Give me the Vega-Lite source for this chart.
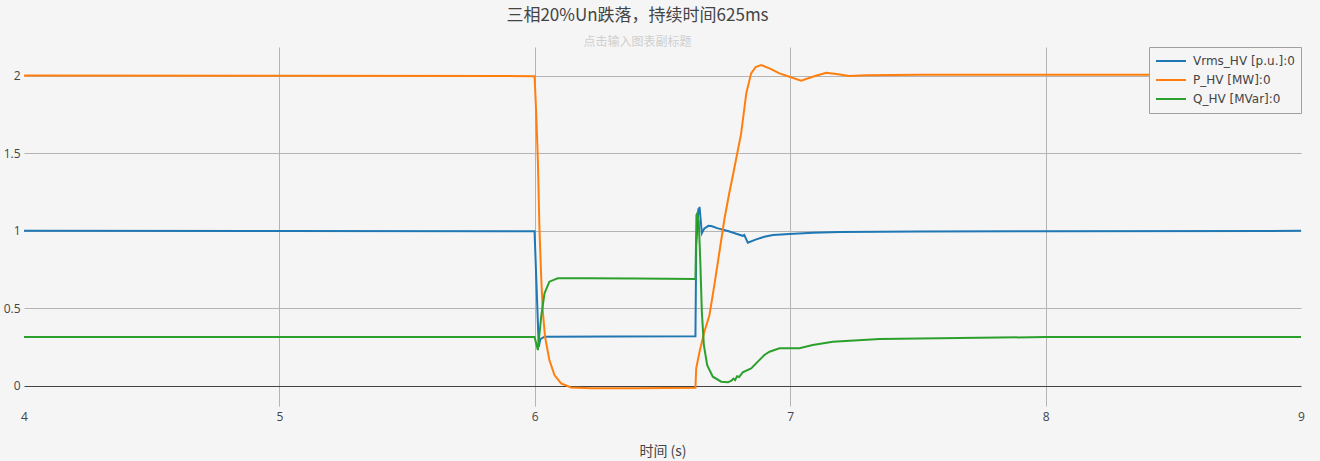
{
  "$schema": "https://vega.github.io/schema/vega-lite/v6.json",
  "width": 1277,
  "height": 359,
  "autosize": {"type": "none"},
  "padding": {"left": 24, "top": 47, "right": 19, "bottom": 55},
  "background": "#f5f5f5",
  "config": {"view": {"stroke": null}, "font": "Open Sans"},
  "title": {
    "text": "三相20%Un跌落，持续时间625ms",
    "subtitle": "点击输入图表副标题",
    "font": "Noto Sans CJK SC",
    "fontSize": 17,
    "fontWeight": "normal",
    "color": "#444444",
    "subtitleFont": "Noto Sans CJK SC",
    "subtitleFontSize": 12,
    "subtitleColor": "#cfcfcf",
    "subtitlePadding": 12,
    "anchor": "middle",
    "frame": "group",
    "dx": -25,
    "offset": -2
  },
  "data": {
    "values": [
      {"s": "V", "t": 4.0, "v": 0.998},
      {"s": "V", "t": 5.0, "v": 0.997},
      {"s": "V", "t": 5.999, "v": 0.996},
      {"s": "V", "t": 6.0155, "v": 0.25},
      {"s": "V", "t": 6.022, "v": 0.3},
      {"s": "V", "t": 6.038, "v": 0.315},
      {"s": "V", "t": 6.3, "v": 0.316},
      {"s": "V", "t": 6.629, "v": 0.318},
      {"s": "V", "t": 6.632, "v": 0.9},
      {"s": "V", "t": 6.636, "v": 1.014},
      {"s": "V", "t": 6.639, "v": 1.1},
      {"s": "V", "t": 6.641, "v": 1.143},
      {"s": "V", "t": 6.643, "v": 1.12},
      {"s": "V", "t": 6.645, "v": 1.153},
      {"s": "V", "t": 6.649, "v": 1.079},
      {"s": "V", "t": 6.654, "v": 0.982},
      {"s": "V", "t": 6.664, "v": 1.014},
      {"s": "V", "t": 6.68, "v": 1.03},
      {"s": "V", "t": 6.691, "v": 1.029},
      {"s": "V", "t": 6.717, "v": 1.014},
      {"s": "V", "t": 6.756, "v": 0.997},
      {"s": "V", "t": 6.795, "v": 0.976},
      {"s": "V", "t": 6.814, "v": 0.966},
      {"s": "V", "t": 6.82, "v": 0.972},
      {"s": "V", "t": 6.834, "v": 0.921},
      {"s": "V", "t": 6.867, "v": 0.943},
      {"s": "V", "t": 6.899, "v": 0.96},
      {"s": "V", "t": 6.932, "v": 0.971},
      {"s": "V", "t": 6.997, "v": 0.978},
      {"s": "V", "t": 7.088, "v": 0.985},
      {"s": "V", "t": 7.193, "v": 0.99},
      {"s": "V", "t": 7.5, "v": 0.994},
      {"s": "V", "t": 8.0, "v": 0.996},
      {"s": "V", "t": 9.0, "v": 0.998},

      {"s": "P", "t": 4.0, "v": 2.0},
      {"s": "P", "t": 5.0, "v": 1.998},
      {"s": "P", "t": 5.999, "v": 1.996},
      {"s": "P", "t": 6.005, "v": 1.78},
      {"s": "P", "t": 6.012, "v": 1.455},
      {"s": "P", "t": 6.018, "v": 1.025},
      {"s": "P", "t": 6.025, "v": 0.7},
      {"s": "P", "t": 6.031, "v": 0.487},
      {"s": "P", "t": 6.04, "v": 0.315},
      {"s": "P", "t": 6.057, "v": 0.165},
      {"s": "P", "t": 6.077, "v": 0.068},
      {"s": "P", "t": 6.103, "v": 0.014},
      {"s": "P", "t": 6.142, "v": -0.012},
      {"s": "P", "t": 6.221, "v": -0.018},
      {"s": "P", "t": 6.4, "v": -0.017},
      {"s": "P", "t": 6.629, "v": -0.014},
      {"s": "P", "t": 6.632, "v": 0.111},
      {"s": "P", "t": 6.645, "v": 0.218},
      {"s": "P", "t": 6.664, "v": 0.347},
      {"s": "P", "t": 6.684, "v": 0.455},
      {"s": "P", "t": 6.703, "v": 0.648},
      {"s": "P", "t": 6.723, "v": 0.863},
      {"s": "P", "t": 6.743, "v": 1.079},
      {"s": "P", "t": 6.76, "v": 1.229},
      {"s": "P", "t": 6.781, "v": 1.4},
      {"s": "P", "t": 6.808, "v": 1.627},
      {"s": "P", "t": 6.828, "v": 1.885},
      {"s": "P", "t": 6.847, "v": 2.014},
      {"s": "P", "t": 6.865, "v": 2.055},
      {"s": "P", "t": 6.886, "v": 2.068},
      {"s": "P", "t": 6.919, "v": 2.046},
      {"s": "P", "t": 6.958, "v": 2.014},
      {"s": "P", "t": 6.997, "v": 1.992},
      {"s": "P", "t": 7.043, "v": 1.966},
      {"s": "P", "t": 7.088, "v": 1.992},
      {"s": "P", "t": 7.141, "v": 2.018},
      {"s": "P", "t": 7.18, "v": 2.01},
      {"s": "P", "t": 7.232, "v": 1.997},
      {"s": "P", "t": 7.298, "v": 2.001},
      {"s": "P", "t": 7.506, "v": 2.005},
      {"s": "P", "t": 8.0, "v": 2.005},
      {"s": "P", "t": 9.0, "v": 2.005},

      {"s": "Q", "t": 4.0, "v": 0.313},
      {"s": "Q", "t": 5.0, "v": 0.313},
      {"s": "Q", "t": 5.999, "v": 0.313},
      {"s": "Q", "t": 6.012, "v": 0.229},
      {"s": "Q", "t": 6.025, "v": 0.444},
      {"s": "Q", "t": 6.038, "v": 0.595},
      {"s": "Q", "t": 6.057, "v": 0.67},
      {"s": "Q", "t": 6.09, "v": 0.692},
      {"s": "Q", "t": 6.2, "v": 0.692},
      {"s": "Q", "t": 6.4, "v": 0.69},
      {"s": "Q", "t": 6.629, "v": 0.688},
      {"s": "Q", "t": 6.633, "v": 1.1},
      {"s": "Q", "t": 6.636, "v": 1.11},
      {"s": "Q", "t": 6.639, "v": 1.08},
      {"s": "Q", "t": 6.642, "v": 1.057},
      {"s": "Q", "t": 6.648, "v": 0.8},
      {"s": "Q", "t": 6.654, "v": 0.476},
      {"s": "Q", "t": 6.662, "v": 0.261},
      {"s": "Q", "t": 6.675, "v": 0.132},
      {"s": "Q", "t": 6.697, "v": 0.057},
      {"s": "Q", "t": 6.73, "v": 0.025},
      {"s": "Q", "t": 6.756, "v": 0.021},
      {"s": "Q", "t": 6.77, "v": 0.032},
      {"s": "Q", "t": 6.778, "v": 0.045},
      {"s": "Q", "t": 6.784, "v": 0.035},
      {"s": "Q", "t": 6.792, "v": 0.06},
      {"s": "Q", "t": 6.8, "v": 0.055},
      {"s": "Q", "t": 6.814, "v": 0.085},
      {"s": "Q", "t": 6.847, "v": 0.111},
      {"s": "Q", "t": 6.899, "v": 0.197},
      {"s": "Q", "t": 6.919, "v": 0.218},
      {"s": "Q", "t": 6.958, "v": 0.24},
      {"s": "Q", "t": 7.036, "v": 0.24},
      {"s": "Q", "t": 7.088, "v": 0.261},
      {"s": "Q", "t": 7.167, "v": 0.283},
      {"s": "Q", "t": 7.35, "v": 0.3},
      {"s": "Q", "t": 8.0, "v": 0.313},
      {"s": "Q", "t": 9.0, "v": 0.313}
    ]
  },
  "mark": {"type": "line", "strokeWidth": 2, "clip": true},
  "encoding": {
    "x": {
      "field": "t",
      "type": "quantitative",
      "scale": {"domain": [4, 9], "nice": false, "zero": false},
      "axis": {
        "values": [4, 5, 6, 7, 8, 9],
        "title": "时间 (s)",
        "titleFont": "Noto Sans CJK SC",
        "titleFontSize": 14,
        "titleFontWeight": "normal",
        "titleColor": "#444444",
        "titlePadding": 22,
        "labelFontSize": 12,
        "labelColor": "#444444",
        "labelPadding": 5,
        "labelFlush": false,
        "ticks": false,
        "domain": false,
        "grid": true,
        "gridColor": {"condition": {"test": "datum.value === 4 || datum.value === 9", "value": "transparent"}, "value": "#b4b4b4"}
      }
    },
    "y": {
      "field": "v",
      "type": "quantitative",
      "scale": {"domain": [-0.132, 2.184], "nice": false, "zero": false},
      "axis": {
        "values": [0, 0.5, 1, 1.5, 2],
        "format": "~g",
        "title": null,
        "labelFontSize": 12,
        "labelColor": "#444444",
        "labelPadding": 4,
        "ticks": false,
        "domain": false,
        "grid": true,
        "gridColor": {"condition": {"test": "datum.value === 0", "value": "#444444"}, "value": "#b4b4b4"}
      }
    },
    "color": {
      "field": "s",
      "type": "nominal",
      "scale": {"domain": ["V", "P", "Q"], "range": ["#1f77b4", "#ff7f0e", "#2ca02c"]},
      "legend": {
        "orient": "top-right",
        "offset": 0,
        "title": null,
        "labelExpr": "datum.label === 'V' ? 'Vrms_HV [p.u.]:0' : datum.label === 'P' ? 'P_HV [MW]:0' : 'Q_HV [MVar]:0'",
        "fillColor": "#f5f5f5",
        "strokeColor": "#a0a0a0",
        "padding": 6,
        "symbolType": "stroke",
        "symbolSize": 900,
        "symbolStrokeWidth": 2,
        "clipHeight": 16,
        "labelFont": "DejaVu Sans",
        "labelFontSize": 12,
        "labelColor": "#444444",
        "labelOffset": 6,
        "rowPadding": 3
      }
    }
  }
}
